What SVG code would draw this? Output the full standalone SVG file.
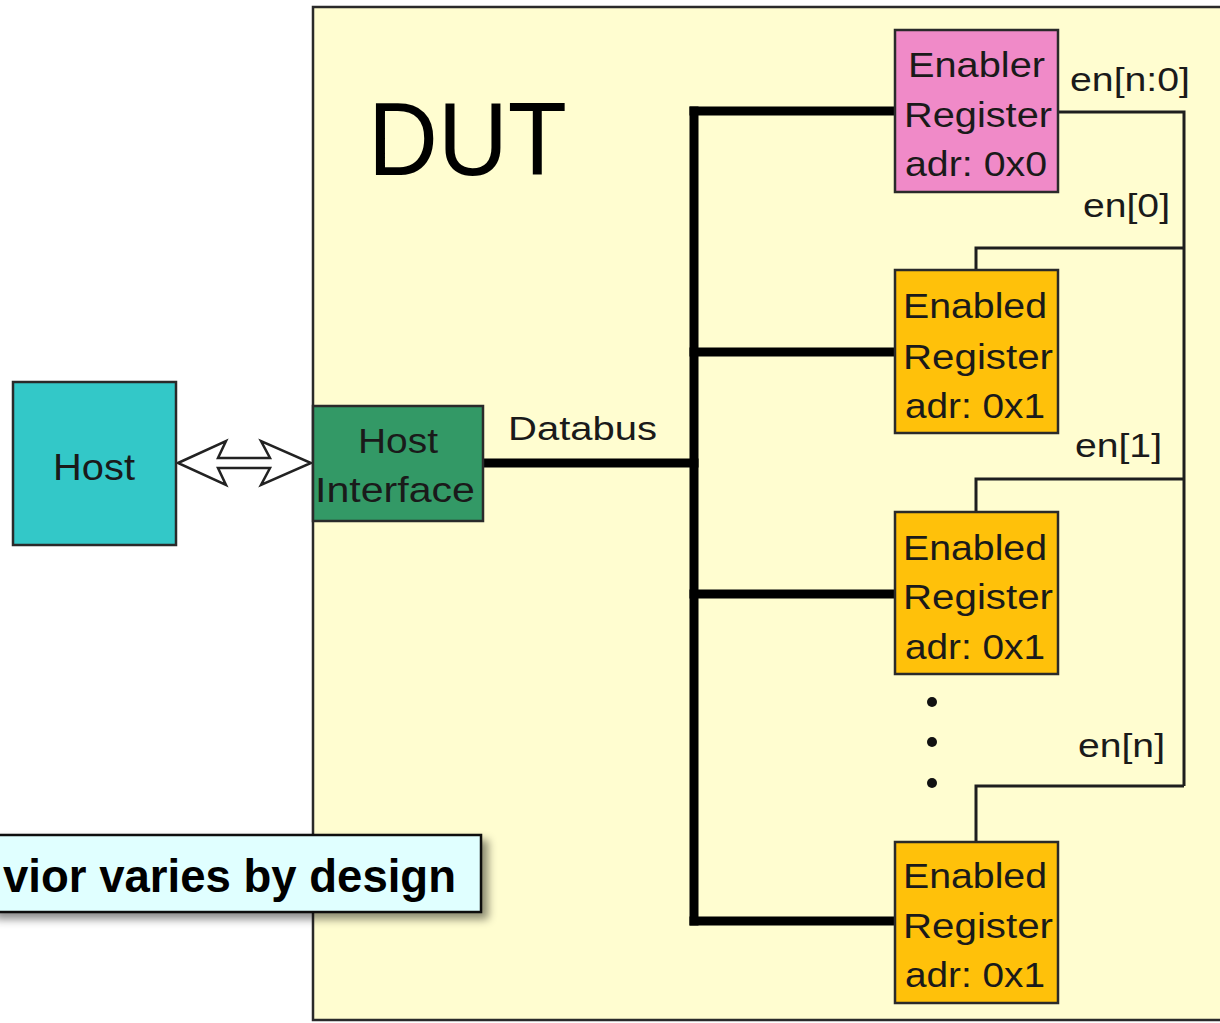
<svg xmlns="http://www.w3.org/2000/svg" width="1220" height="1023" viewBox="0 0 1220 1023">
<defs>
<style>
.t{font-family:"Liberation Sans",Arial,sans-serif;fill:#1a1a1a;}
.lbl{font-size:34px;}
.box{stroke:#2a2a2a;stroke-width:2.5;}
.bus{stroke:#000;stroke-width:9;fill:none;stroke-linecap:square;}
.en{stroke:#1e1e1e;stroke-width:3;fill:none;}
</style>
<filter id="sh" x="-10%" y="-20%" width="130%" height="160%">
<feDropShadow dx="6" dy="6" stdDeviation="4" flood-color="#000" flood-opacity="0.45"/>
</filter>
</defs>
<rect width="1220" height="1023" fill="#ffffff"/>
<g id="dut">
<rect x="313" y="7" width="1000" height="1013" fill="#fffdd0" stroke="#2a2a2a" stroke-width="2.5"/>
<text class="t" x="368" y="175" font-size="104" textLength="199" lengthAdjust="spacingAndGlyphs" fill="#000" style="fill:#000">DUT</text>
</g>
<g id="connectors">
<polygon points="178,463 226,441 218,458 270,458 261,441 311,463 261,485 270,468 218,468 226,485" fill="#ffffff" stroke="#222" stroke-width="2.5" stroke-linejoin="miter"/>
<line class="bus" x1="483" y1="463" x2="694" y2="463"/>
<line class="bus" x1="694" y1="111" x2="694" y2="921"/>
<line class="bus" x1="694" y1="111" x2="893" y2="111"/>
<line class="bus" x1="694" y1="352" x2="893" y2="352"/>
<line class="bus" x1="694" y1="594" x2="893" y2="594"/>
<line class="bus" x1="694" y1="921" x2="893" y2="921"/>
<polyline class="en" points="1058,112 1184,112 1184,786"/>
<polyline class="en" points="1184,248 976,248 976,270"/>
<polyline class="en" points="1184,479 976,479 976,512"/>
<polyline class="en" points="1184,786 976,786 976,842"/>
<text class="t lbl" x="1070" y="91" textLength="120" lengthAdjust="spacingAndGlyphs">en[n:0]</text>
<text class="t lbl" x="1083" y="217" textLength="87" lengthAdjust="spacingAndGlyphs">en[0]</text>
<text class="t lbl" x="1075" y="457" textLength="87" lengthAdjust="spacingAndGlyphs">en[1]</text>
<text class="t lbl" x="1078" y="757" textLength="87" lengthAdjust="spacingAndGlyphs">en[n]</text>
<text class="t lbl" x="508" y="440" textLength="149" lengthAdjust="spacingAndGlyphs">Databus</text>
</g>
<g id="host">
<rect class="box" x="13" y="382" width="163" height="163" fill="#33c8c8"/>
<text class="t" x="53" y="480" font-size="36" textLength="82" lengthAdjust="spacingAndGlyphs">Host</text>
</g>
<g id="host-interface">
<rect class="box" x="313" y="406" width="170" height="115" fill="#339966"/>
<text class="t" x="358" y="453" font-size="35" textLength="80" lengthAdjust="spacingAndGlyphs">Host</text>
<text class="t" x="315" y="502" font-size="35" textLength="160" lengthAdjust="spacingAndGlyphs">Interface</text>
</g>
<g id="enabler-register">
<rect class="box" x="895" y="30" width="163" height="162" fill="#f08ac8"/>
<text class="t" x="908" y="77" font-size="35" textLength="137" lengthAdjust="spacingAndGlyphs">Enabler</text>
<text class="t" x="904" y="127" font-size="35" textLength="148" lengthAdjust="spacingAndGlyphs">Register</text>
<text class="t" x="905" y="176" font-size="35" textLength="142" lengthAdjust="spacingAndGlyphs">adr: 0x0</text>
</g>
<g id="enabled-register-1">
<rect class="box" x="895" y="270" width="163" height="163" fill="#ffc10a"/>
<text class="t" x="903" y="318" font-size="35" textLength="144" lengthAdjust="spacingAndGlyphs">Enabled</text>
<text class="t" x="903" y="369" font-size="35" textLength="150" lengthAdjust="spacingAndGlyphs">Register</text>
<text class="t" x="905" y="418" font-size="35" textLength="140" lengthAdjust="spacingAndGlyphs">adr: 0x1</text>
</g>
<g id="enabled-register-2">
<rect class="box" x="895" y="512" width="163" height="162" fill="#ffc10a"/>
<text class="t" x="903" y="560" font-size="35" textLength="144" lengthAdjust="spacingAndGlyphs">Enabled</text>
<text class="t" x="903" y="609" font-size="35" textLength="150" lengthAdjust="spacingAndGlyphs">Register</text>
<text class="t" x="905" y="659" font-size="35" textLength="140" lengthAdjust="spacingAndGlyphs">adr: 0x1</text>
</g>
<g id="ellipsis" fill="#111">
<circle cx="932" cy="702" r="5"/>
<circle cx="932" cy="742" r="5"/>
<circle cx="932" cy="783" r="5"/>
</g>
<g id="enabled-register-n">
<rect class="box" x="895" y="842" width="163" height="161" fill="#ffc10a"/>
<text class="t" x="903" y="888" font-size="35" textLength="144" lengthAdjust="spacingAndGlyphs">Enabled</text>
<text class="t" x="903" y="938" font-size="35" textLength="150" lengthAdjust="spacingAndGlyphs">Register</text>
<text class="t" x="905" y="987" font-size="35" textLength="140" lengthAdjust="spacingAndGlyphs">adr: 0x1</text>
</g>
<g id="callout">
<rect x="-10" y="835" width="491" height="77" fill="#e0ffff" stroke="#111" stroke-width="2.5" filter="url(#sh)"/>
<text x="3" y="892" font-family="'Liberation Sans',Arial,sans-serif" font-weight="bold" font-size="47" textLength="453" lengthAdjust="spacingAndGlyphs" fill="#000">vior varies by design</text>
</g>
</svg>
